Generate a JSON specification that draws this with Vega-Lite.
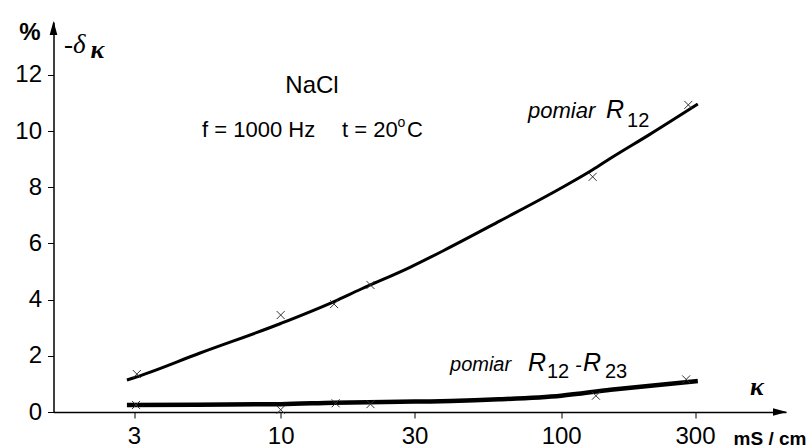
{
  "$schema": "https://vega.github.io/schema/vega-lite/v6.json",
  "width": 732.5,
  "height": 390,
  "autosize": {"type": "none"},
  "padding": {"left": 53.5, "top": 22, "right": 25, "bottom": 36},
  "background": "white",
  "config": {"view": {"stroke": null}, "font": "Liberation Sans"},
  "datasets": {
    "curves": [
      {"series": "R12", "x": 2.83, "y": 1.14},
      {"series": "R12", "x": 3, "y": 1.22},
      {"series": "R12", "x": 5.16, "y": 2.1},
      {"series": "R12", "x": 10, "y": 3.15},
      {"series": "R12", "x": 15.5, "y": 3.93},
      {"series": "R12", "x": 19.2, "y": 4.36},
      {"series": "R12", "x": 28.9, "y": 5.15},
      {"series": "R12", "x": 38, "y": 5.74},
      {"series": "R12", "x": 60.5, "y": 6.8},
      {"series": "R12", "x": 100, "y": 7.97},
      {"series": "R12", "x": 129.5, "y": 8.62},
      {"series": "R12", "x": 149, "y": 9.01},
      {"series": "R12", "x": 207, "y": 9.88},
      {"series": "R12", "x": 307, "y": 10.96},
      {"series": "diff", "x": 2.83, "y": 0.25},
      {"series": "diff", "x": 5, "y": 0.26},
      {"series": "diff", "x": 10, "y": 0.28},
      {"series": "diff", "x": 15.5, "y": 0.33},
      {"series": "diff", "x": 30, "y": 0.37},
      {"series": "diff", "x": 40.5, "y": 0.39},
      {"series": "diff", "x": 60, "y": 0.45},
      {"series": "diff", "x": 100, "y": 0.58},
      {"series": "diff", "x": 150, "y": 0.79},
      {"series": "diff", "x": 200, "y": 0.92},
      {"series": "diff", "x": 307, "y": 1.1}
    ],
    "markers": [
      {"series": "R12", "x": 3.07, "y": 1.35},
      {"series": "R12", "x": 10, "y": 3.45},
      {"series": "R12", "x": 15.5, "y": 3.84},
      {"series": "R12", "x": 20.9, "y": 4.52},
      {"series": "R12", "x": 129.5, "y": 8.37},
      {"series": "R12", "x": 284, "y": 10.93},
      {"series": "diff", "x": 3.05, "y": 0.25},
      {"series": "diff", "x": 10, "y": 0.08},
      {"series": "diff", "x": 15.7, "y": 0.31},
      {"series": "diff", "x": 20.9, "y": 0.28},
      {"series": "diff", "x": 133, "y": 0.58},
      {"series": "diff", "x": 279, "y": 1.16}
    ],
    "arrows": [
      {"dir": "x", "x": 602.7, "y": 0},
      {"dir": "y", "x": 1.549, "y": 13.67}
    ],
    "texts": [
      {"group": "sans", "label": "f = 1000 Hz", "x": 5.243, "y": 9.776},
      {"group": "sans", "label": "t = 20", "x": 16.54, "y": 9.79},
      {"group": "sans", "label": "C", "x": 28.21, "y": 9.79},
      {"group": "nacl", "label": "NaCl", "x": 12.93, "y": 11.34},
      {"group": "sup", "label": "o", "x": 26.96, "y": 10.14},
      {"group": "italic", "label": "pomiar", "x": 76.14, "y": 10.46},
      {"group": "R", "label": "R", "x": 144.5, "y": 10.46},
      {"group": "italic2", "label": "pomiar", "x": 40.15, "y": 1.459},
      {"group": "R", "label": "R", "x": 76.14, "y": 1.459},
      {"group": "italic2", "label": "-", "x": 112.0, "y": 1.423},
      {"group": "R", "label": "R", "x": 119.6, "y": 1.459},
      {"group": "sub", "label": "12", "x": 171.7, "y": 10.14},
      {"group": "sub", "label": "12", "x": 89.0, "y": 1.21},
      {"group": "sub", "label": "23", "x": 143.3, "y": 1.21},
      {"group": "pct", "label": "%", "x": 1.277, "y": 13.24},
      {"group": "delta", "label": "-δ", "x": 1.689, "y": 12.78},
      {"group": "kappa", "label": "κ", "x": 2.223, "y": 12.6},
      {"group": "kappa", "label": "κ", "x": 499, "y": 0.605},
      {"group": "unit", "label": "mS / cm", "x": 555.3, "y": -1.174}
    ]
  },
  "encoding": {
    "x": {
      "field": "x", "type": "quantitative",
      "scale": {"type": "log", "domain": [1.549, 633.2], "nice": false, "zero": false},
      "axis": {"title": null, "values": [3, 10, 30, 100, 300], "format": "d", "labelFont": "Liberation Sans", "labelFontSize": 24, "labelColor": "black", "labelPadding": 6, "tickSize": 6, "tickColor": "black", "domainColor": "black", "domainWidth": 1.5, "grid": false, "labelOverlap": false, "labelFlush": false}
    },
    "y": {
      "field": "y", "type": "quantitative",
      "scale": {"domain": [0, 13.88], "nice": false, "zero": false},
      "axis": {"title": null, "values": [0, 2, 4, 6, 8, 10, 12], "labelFont": "Liberation Sans", "labelFontSize": 24, "labelColor": "black", "labelPadding": 6, "tickSize": 6, "tickColor": "black", "domainColor": "black", "domainWidth": 1.5, "grid": false, "labelOverlap": false, "labelFlush": false}
    }
  },
  "layer": [
    {
      "data": {"name": "curves"},
      "transform": [{"filter": "datum.series === 'R12'"}],
      "mark": {"type": "line", "interpolate": "monotone", "color": "black", "strokeWidth": 3}
    },
    {
      "data": {"name": "curves"},
      "transform": [{"filter": "datum.series === 'diff'"}],
      "mark": {"type": "line", "interpolate": "monotone", "color": "black", "strokeWidth": 4.5}
    },
    {
      "data": {"name": "markers"},
      "mark": {"type": "point", "shape": "M-1,-1L1,1M1,-1L-1,1", "filled": false, "stroke": "#333333", "strokeWidth": 1, "size": 64, "opacity": 1}
    },
    {
      "data": {"name": "arrows"},
      "transform": [{"filter": "datum.dir === 'x'"}],
      "mark": {"type": "point", "shape": "M-1,-0.55L1,0L-1,0.55Z", "filled": true, "color": "black", "size": 196, "opacity": 1}
    },
    {
      "data": {"name": "arrows"},
      "transform": [{"filter": "datum.dir === 'y'"}],
      "mark": {"type": "point", "shape": "M-0.55,1L0,-1L0.55,1Z", "filled": true, "color": "black", "size": 196, "opacity": 1}
    },
    {
      "data": {"name": "texts"},
      "transform": [{"filter": "datum.group === 'sans'"}],
      "mark": {"type": "text", "align": "left", "baseline": "alphabetic", "font": "Liberation Sans", "fontSize": 22, "color": "black"},
      "encoding": {"text": {"field": "label"}}
    },
    {
      "data": {"name": "texts"},
      "transform": [{"filter": "datum.group === 'nacl'"}],
      "mark": {"type": "text", "align": "center", "baseline": "alphabetic", "font": "Liberation Sans", "fontSize": 24, "color": "black"},
      "encoding": {"text": {"field": "label"}}
    },
    {
      "data": {"name": "texts"},
      "transform": [{"filter": "datum.group === 'sup'"}],
      "mark": {"type": "text", "align": "center", "baseline": "alphabetic", "font": "Liberation Sans", "fontSize": 14, "color": "black"},
      "encoding": {"text": {"field": "label"}}
    },
    {
      "data": {"name": "texts"},
      "transform": [{"filter": "datum.group === 'italic'"}],
      "mark": {"type": "text", "align": "left", "baseline": "alphabetic", "font": "Liberation Sans", "fontStyle": "italic", "fontSize": 22, "color": "black"},
      "encoding": {"text": {"field": "label"}}
    },
    {
      "data": {"name": "texts"},
      "transform": [{"filter": "datum.group === 'italic2'"}],
      "mark": {"type": "text", "align": "left", "baseline": "alphabetic", "font": "Liberation Sans", "fontStyle": "italic", "fontSize": 20, "color": "black"},
      "encoding": {"text": {"field": "label"}}
    },
    {
      "data": {"name": "texts"},
      "transform": [{"filter": "datum.group === 'R'"}],
      "mark": {"type": "text", "align": "left", "baseline": "alphabetic", "font": "Liberation Sans", "fontStyle": "italic", "fontSize": 25, "color": "black"},
      "encoding": {"text": {"field": "label"}}
    },
    {
      "data": {"name": "texts"},
      "transform": [{"filter": "datum.group === 'sub'"}],
      "mark": {"type": "text", "align": "left", "baseline": "alphabetic", "font": "Liberation Sans", "fontSize": 20, "color": "black"},
      "encoding": {"text": {"field": "label"}}
    },
    {
      "data": {"name": "texts"},
      "transform": [{"filter": "datum.group === 'pct'"}],
      "mark": {"type": "text", "align": "center", "baseline": "alphabetic", "font": "Liberation Sans", "fontWeight": "bold", "fontSize": 24, "color": "black"},
      "encoding": {"text": {"field": "label"}}
    },
    {
      "data": {"name": "texts"},
      "transform": [{"filter": "datum.group === 'delta'"}],
      "mark": {"type": "text", "align": "left", "baseline": "alphabetic", "font": "Liberation Serif", "fontStyle": "italic", "fontSize": 27, "color": "black"},
      "encoding": {"text": {"field": "label"}}
    },
    {
      "data": {"name": "texts"},
      "transform": [{"filter": "datum.group === 'kappa'"}],
      "mark": {"type": "text", "align": "center", "baseline": "alphabetic", "font": "Liberation Serif", "fontStyle": "italic", "fontWeight": "bold", "fontSize": 26, "color": "black"},
      "encoding": {"text": {"field": "label"}}
    },
    {
      "data": {"name": "texts"},
      "transform": [{"filter": "datum.group === 'unit'"}],
      "mark": {"type": "text", "align": "center", "baseline": "alphabetic", "font": "Liberation Sans", "fontWeight": "bold", "fontSize": 19, "color": "black"},
      "encoding": {"text": {"field": "label"}}
    }
  ]
}
